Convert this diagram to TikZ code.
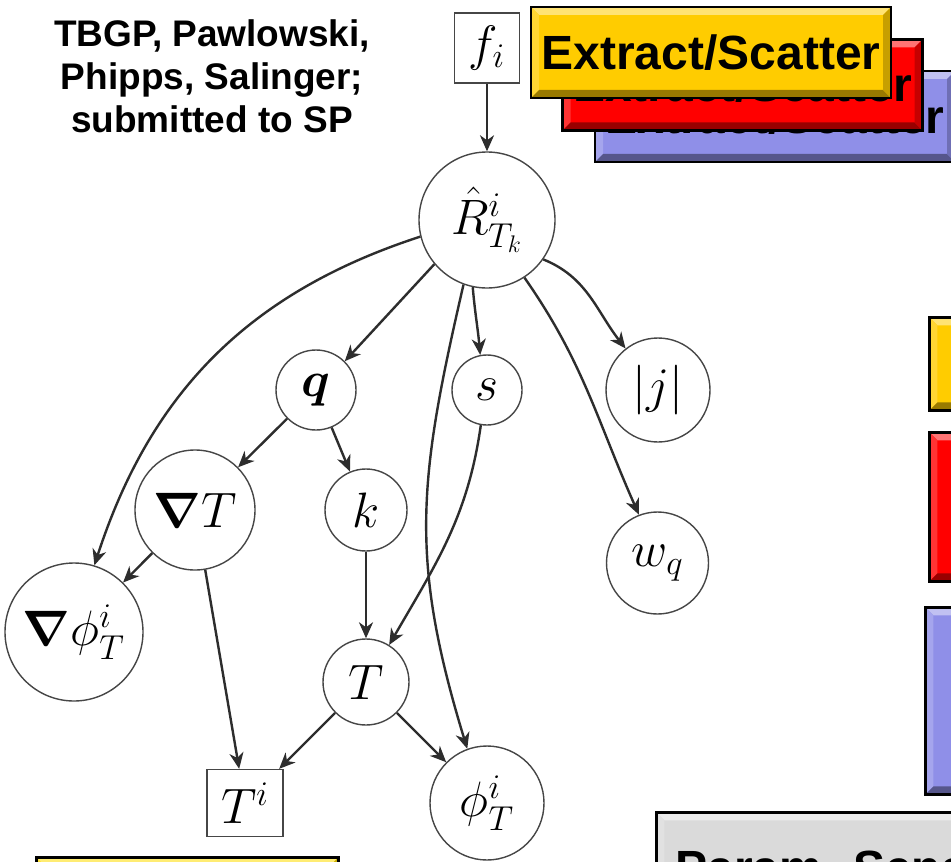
\documentclass[tikz,border=0pt]{standalone}
\usepackage{amsmath,bm}
\usepackage{fontspec}
\newfontfamily\lab{Liberation Sans}
\usetikzlibrary{arrows.meta,calc}
\definecolor{exyellow}{RGB}{255,204,0}
\definecolor{exred}{RGB}{255,0,0}
\definecolor{exblue}{RGB}{143,143,232}
\definecolor{exgrey}{RGB}{218,218,218}
\definecolor{lowyellow}{RGB}{255,221,0}
\definecolor{edgecol}{RGB}{45,45,45}
\definecolor{circcol}{RGB}{70,70,70}
\newcommand\mathsz{\fontsize{24}{28}\selectfont}
\newcommand\bigmathsz{\fontsize{25.5}{30}\selectfont}
\newcommand\boxfont{\lab\bfseries\fontsize{24}{28}\selectfont}
\tikzset{
  bevelbox/.style={draw=black, line width=1.4pt, fill=#1, inner sep=0pt, font=\boxfont,
    path picture={
      \path (path picture bounding box.north west) coordinate (bvnw)
            (path picture bounding box.north east) coordinate (bvne)
            (path picture bounding box.south west) coordinate (bvsw)
            (path picture bounding box.south east) coordinate (bvse);
      \fill[#1!55!white] (bvnw) -- (bvne) -- ([shift={(-4pt,-4pt)}]bvne) -- ([shift={(4pt,-4pt)}]bvnw) -- cycle;
      \fill[#1!80!white] (bvnw) -- (bvsw) -- ([shift={(4pt,4pt)}]bvsw) -- ([shift={(4pt,-4pt)}]bvnw) -- cycle;
      \fill[#1!60!black] (bvsw) -- (bvse) -- ([shift={(-4pt,4pt)}]bvse) -- ([shift={(4pt,4pt)}]bvsw) -- cycle;
      \fill[#1!78!black] (bvne) -- (bvse) -- ([shift={(-4pt,4pt)}]bvse) -- ([shift={(-4pt,-4pt)}]bvne) -- cycle;
    }},
  vnode/.style={circle, draw=circcol, line width=0.7pt, inner sep=0pt, minimum size=#1, font=\mathsz},
  sqnode/.style={rectangle, draw=circcol, line width=0.7pt, inner sep=0pt, font=\mathsz},
  dep/.style={draw=edgecol, line width=1.2pt, -{Stealth[length=8pt,width=7pt,inset=2.5pt]}}
}
\begin{document}
\begin{tikzpicture}[x=0.5pt,y=-0.5pt]
\useasboundingbox (0,0) rectangle (951,861);
\fill[white] (0,0) rectangle (951,861);
\begin{scope}
\clip (0,0) rectangle (951,861);

% citation
\node[font=\lab\bfseries\fontsize{18.5}{21.5}\selectfont, align=center] (cite) at (212,76)
  {TBGP, Pawlowski,\\Phipps, Salinger;\\submitted to SP};

% Extract/Scatter stack
\node[bevelbox=exblue, minimum width=180pt, minimum height=45.5pt] (exb) at (775,116.5) {Extract/Scatter};
\node[bevelbox=exred, minimum width=180pt, minimum height=45.5pt] (exr) at (742.5,85) {Extract/Scatter};
\node[bevelbox=exyellow, minimum width=180pt, minimum height=45.5pt] (exy) at (711,52.5) {Extract/Scatter};

% right side boxes
\node[bevelbox=exyellow, minimum width=180pt, minimum height=46.5pt, anchor=north west] (ry) at (928,316) {};
\node[bevelbox=exred, minimum width=180pt, minimum height=74.5pt, anchor=north west] (rr) at (928,431) {};
\node[bevelbox=exblue, minimum width=180pt, minimum height=93.5pt, anchor=north west] (rb) at (924,606) {};

% bottom boxes
\node[bevelbox=exgrey, minimum width=180pt, minimum height=60pt, anchor=north west] (pg) at (655,811) {};
\node[font=\boxfont, anchor=base west, inner sep=0pt] (pgt) at (675,884) {Param. Sens};
\node[bevelbox=lowyellow, minimum width=151pt, minimum height=40pt, anchor=north west] (ly) at (35,856) {};

% graph nodes
\node[sqnode, minimum width=32.5pt, minimum height=35pt] (fi) at (487,48) {$f_i$};
\node[vnode=68pt, font=\bigmathsz] (R) at (487,220) {$\hat{R}^i_{T_k}$};
\node[vnode=40pt] (q) at (316,390) {$\bm{q}$};
\node[vnode=35pt] (s) at (487,390) {$s$};
\node[vnode=52pt] (j) at (658,390) {$|j|$};
\node[vnode=60pt] (gT) at (195,510) {$\bm{\nabla} T$};
\node[vnode=41pt] (k) at (366,510) {$k$};
\node[vnode=51pt] (wq) at (657.5,563) {$w_q$};
\node[vnode=69pt] (gphi) at (74,632) {$\bm{\nabla}\phi^i_T$};
\node[vnode=43pt] (T) at (366,682) {$T$};
\node[sqnode, minimum width=38pt, minimum height=33.5pt] (Ti) at (245,803) {$T^i$};
\node[vnode=57pt] (phi) at (487,803) {$\phi^i_T$};

% dependencies
\draw[dep] (fi) -- (R);
\draw[dep] (R.220) -- (q.45);
\draw[dep] (R.258) to[out=-85,in=95] (s.101);
\draw[dep] (R.-35) to[out=-22,in=128] (j.128);
\draw[dep] (R.-57) to[out=-55,in=114] (wq.111);
\draw[dep] (R.194) to[out=198,in=72] (gphi.73);
\draw[dep] (R.250) to[out=257,in=107,looseness=1.1] (phi.110);
\draw[dep] (q) -- (gT);
\draw[dep] (q) -- (k);
\draw[dep] (s.-100) to[out=-98,in=60] (T.58);
\draw[dep] (gT) -- (gphi);
\draw[dep] (gT) -- (Ti);
\draw[dep] (k) -- (T);
\draw[dep] (T) -- (Ti);
\draw[dep] (T) -- (phi);
\end{scope}
\end{tikzpicture}
\end{document}
